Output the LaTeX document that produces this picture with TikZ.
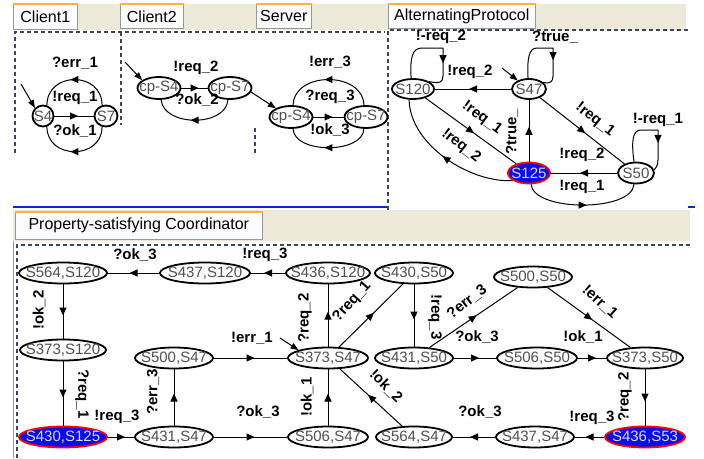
\documentclass[tikz,border=0pt]{standalone}
\usepackage{fontspec}
\setmainfont{Liberation Sans}
\usetikzlibrary{shapes.geometric,arrows.meta,decorations.markings}
\definecolor{beige}{HTML}{ECE9D8}
\definecolor{tabfill}{HTML}{FCFCFE}
\definecolor{taborange}{HTML}{F5B43C}
\definecolor{tabborder}{HTML}{919B9C}
\definecolor{nodegray}{HTML}{505050}
\definecolor{hiblue}{HTML}{0A0AF0}
\definecolor{hitext}{HTML}{D8DCFF}
\definecolor{framegray}{HTML}{3C4654}
\definecolor{selblue}{HTML}{0A28E6}
\newcommand\zt[1]{\makebox[0pt]{#1}}
\begin{document}
\begin{tikzpicture}[x=1pt,y=-1pt,
  st/.style={ellipse, draw=black, line width=1.8pt, fill=white, inner sep=0pt,
    minimum height=21pt, font=\fontsize{15}{15}\selectfont, text=nodegray},
  hi/.style={st, fill=hiblue, draw=red, text=hitext},
  lab/.style={font=\bfseries\fontsize{15}{15}\selectfont, inner sep=0pt},
  tabnode/.style={draw=tabborder, fill=tabfill, line width=0.6pt, anchor=north west,
    inner sep=0pt, font=\fontsize{16}{16}\selectfont},
  conn/.style={line width=1pt, postaction={decorate}, decoration={markings,
    mark=at position #1 with {\pgftransformxshift{4pt}\arrow{Triangle[length=8pt,width=7pt]}}}},
  conn/.default=0.5,
  init/.style={line width=1pt, -{Triangle[length=8pt,width=6pt]}},
  dashframe/.style={dash pattern=on 4pt off 3pt, line width=1.3pt, color=framegray},
]
\useasboundingbox (0,0) rectangle (704,458);
\fill[white] (0,0) rectangle (704,458);

% ---------- window chrome ----------
\fill[beige] (13,4) rectangle (686,30);
\fill[beige] (13,210) rectangle (690,241);
\node[tabnode, minimum width=64, minimum height=25] (t1) at (13,4) {Client1};
\node[tabnode, minimum width=63, minimum height=24] (t2) at (120,4) {Client2};
\node[tabnode, minimum width=55, minimum height=24] (t3) at (256,4) {Server};
\node[tabnode, minimum width=147, minimum height=24] (t4) at (388,4) {AlternatingProtocol};
\node[tabnode, minimum width=247, minimum height=27] (t5) at (15,212) {Property-satisfying Coordinator};
\foreach \t in {t1,t2,t3,t4,t5}
  \draw[taborange, line width=2pt] (\t.north west) -- (\t.north east);

\draw[dashframe] (15,153) -- (15,32) -- (385,32);
\draw[dashframe] (121,32) -- (121,125);
\draw[dashframe] (255,128) -- (255,153);
\draw[dashframe] (388,210) -- (388,30) -- (688,30);
\draw[selblue, line width=2pt] (13,207) -- (387,207);
\draw[selblue, line width=2pt] (688,207) -- (695,207);
\draw[dashframe] (17,458) -- (17,245) -- (690,245);
\draw[tabborder, line width=0.8pt] (13,241) -- (13,458);

% ---------- Client1 ----------
\node[st, minimum width=21, minimum height=21] (c1a) at (43,116) {\zt{S4}};
\node[st, minimum width=23, minimum height=21] (c1b) at (106,116) {\zt{S7}};
\coordinate (c1i) at (21,84);
\draw[init] (c1i) -- (c1a.135);
\draw[conn] (c1a) -- (c1b);
\draw[conn] (c1b.110) .. controls (102,71) and (47,71) .. (c1a.70);
\draw[conn] (c1b.-110) .. controls (102,160) and (47,160) .. (c1a.-70);
\node[lab] (c1l1) at (75,63) {?err\_1};
\node[lab] (c1l2) at (75,98) {!req\_1};
\node[lab] (c1l3) at (75,131) {?ok\_1};

% ---------- Client2 ----------
\node[st, minimum width=43, minimum height=22] (c2a) at (159,88) {\zt{cp-S4}};
\node[st, minimum width=43, minimum height=22] (c2b) at (230,88) {\zt{cp-S7}};
\coordinate (c2i) at (125,62);
\draw[init] (c2i) -- (c2a.155);
\draw[conn] (c2a) -- (c2b);
\draw[conn] (c2b.-100) .. controls (226,127) and (164,127) .. (c2a.-80);
\node[lab] (c2l1) at (196,68) {!req\_2};
\node[lab] (c2l2) at (197,100) {?ok\_2};

% ---------- Server ----------
\node[st, minimum width=43, minimum height=22] (sa) at (291,117) {\zt{cp-S4}};
\node[st, minimum width=43, minimum height=22] (sb) at (366,117) {\zt{cp-S7}};
\coordinate (si) at (251,92);
\draw[init] (si) -- (sa.150);
\draw[conn] (sa) -- (sb);
\draw[conn] (sb.100) .. controls (363,71) and (294,71) .. (sa.80);
\draw[conn] (sb.-100) .. controls (363,154) and (294,154) .. (sa.-80);
\node[lab] (sl1) at (330,62) {!err\_3};
\node[lab] (sl2) at (330,97) {?req\_3};
\node[lab] (sl3) at (330,130) {!ok\_3};

% ---------- AlternatingProtocol ----------
\node[st, minimum width=42, minimum height=20] (p120) at (413,89) {\zt{S120}};
\node[st, minimum width=34, minimum height=20] (p47) at (529,89) {\zt{S47}};
\node[hi, minimum width=42, minimum height=21] (p125) at (529,173) {\zt{S125}};
\node[st, minimum width=36, minimum height=21] (p50) at (636,173) {\zt{S50}};
\coordinate (pi) at (502,68);
\draw[init] (pi) -- (p47.143);
\draw[conn] (p47) -- (p120);
\draw[conn] (p120) -- (p125);
\draw[conn] (p125) -- (p47);
\draw[conn] (p47) -- (p50);
\draw[conn] (p50) -- (p125);
\draw[conn] (p125.205) .. controls (470,183) and (410,145) .. (p120.-110);
\draw[conn] (p125.-80) .. controls (534,212) and (632,212) .. (p50.-100);
\draw[conn=0.66] (p120.100) .. controls (410,58) and (412,48) .. (422,48) -- (443,48) -- (443,76) .. controls (443,82) and (440,84) .. (p120.25);
\draw[conn=0.63] (p47.95) .. controls (527,58) and (529,48) .. (537,48) -- (553,48) -- (553,76) .. controls (553,82) and (550,84) .. (p47.25);
\draw[conn=0.66] (p50.100) .. controls (631,140) and (633,130) .. (641,130) -- (658,130) -- (658,160) .. controls (658,166) and (655,169) .. (p50.10);
\node[lab] (pl1) at (441,37) {!-req\_2};
\node[lab] (pl2) at (555,37) {?true\_};
\node[lab] (pl3) at (470,72) {!req\_2};
\node[lab, rotate=-36] (pl4) at (482,118) {!req\_1};
\node[lab, rotate=-38] (pl5) at (461,146) {!req\_2};
\node[lab, rotate=90] (pl6) at (512,132) {?true\_};
\node[lab, rotate=-38] (pl7) at (595,120) {!req\_1};
\node[lab] (pl8) at (658,120) {!-req\_1};
\node[lab] (pl9) at (582,155) {!req\_2};
\node[lab] (pl10) at (582,187) {!req\_1};

% ---------- Property-satisfying Coordinator ----------
\node[st, minimum width=88] (k1) at (63,273) {\zt{S564,S120}};
\node[st, minimum width=90] (k2) at (205,273) {\zt{S437,S120}};
\node[st, minimum width=84] (k3) at (328,273) {\zt{S436,S120}};
\node[st, minimum width=78] (k4) at (414,273) {\zt{S430,S50}};
\node[st, minimum width=78] (k5) at (533,277) {\zt{S500,S50}};
\node[st, minimum width=86] (k6) at (63,350) {\zt{S373,S120}};
\node[st, minimum width=78] (k7) at (174,358) {\zt{S500,S47}};
\node[st, minimum width=80] (k8) at (328,358) {\zt{S373,S47}};
\node[st, minimum width=78] (k9) at (414,358) {\zt{S431,S50}};
\node[st, minimum width=80] (k10) at (537,358) {\zt{S506,S50}};
\node[st, minimum width=76] (k11) at (645,358) {\zt{S373,S50}};
\node[hi, minimum width=88] (k12) at (63,437) {\zt{S430,S125}};
\node[st, minimum width=78] (k13) at (174,437) {\zt{S431,S47}};
\node[st, minimum width=80] (k14) at (328,437) {\zt{S506,S47}};
\node[st, minimum width=76] (k15) at (414,437) {\zt{S564,S47}};
\node[st, minimum width=78] (k16) at (535,437) {\zt{S437,S47}};
\node[hi, minimum width=80] (k17) at (645,437) {\zt{S436,S53}};

\draw[conn] (k2) -- (k1);
\draw[conn] (k3) -- (k2);
\draw[conn] (k1) -- (k6);
\draw[conn] (k6) -- (k12);
\draw[conn] (k12) -- (k13);
\draw[conn] (k13) -- (k7);
\draw[conn] (k7) -- (k8);
\draw[conn] (k13) -- (k14);
\draw[conn] (k8) -- (k3);
\draw[conn] (k8) -- (k4);
\draw[conn] (k4) -- (k9);
\draw[conn] (k9) -- (k5);
\draw[conn] (k9) -- (k10);
\draw[conn] (k5) -- (k11);
\draw[conn] (k10) -- (k11);
\draw[conn] (k11) -- (k17);
\draw[conn] (k17) -- (k16);
\draw[conn] (k16) -- (k15);
\draw[conn] (k15) -- (k8);
\draw[conn] (k14) -- (k8);
\coordinate (ki) at (280,338);
\draw[init] (ki) -- (k8.165);

\node[lab] (kl1) at (135,255) {?ok\_3};
\node[lab] (kl2) at (265,255) {!req\_3};
\node[lab, rotate=90] (kl3) at (39,310) {!ok\_2};
\node[lab, rotate=-90] (kl4) at (82,394) {?req\_1};
\node[lab] (kl5) at (117,417) {!req\_3};
\node[lab, rotate=90] (kl6) at (153,392) {?err\_3};
\node[lab] (kl7) at (252,338) {!err\_1};
\node[lab] (kl8) at (258,412) {?ok\_3};
\node[lab, rotate=90] (kl9) at (305,318) {?req\_2};
\node[lab, rotate=48] (kl10) at (352,302) {?req\_1};
\node[lab, rotate=-90] (kl11) at (435,317) {!req\_3};
\node[lab, rotate=38] (kl12) at (467,302) {?err\_3};
\node[lab] (kl13) at (477,337) {?ok\_3};
\node[lab, rotate=-42] (kl14) at (600,302) {!err\_1};
\node[lab] (kl15) at (583,337) {!ok\_1};
\node[lab, rotate=90] (kl16) at (625,397) {?req\_2};
\node[lab] (kl17) at (592,418) {!req\_3};
\node[lab] (kl18) at (480,412) {?ok\_3};
\node[lab, rotate=-45] (kl19) at (386,386) {!ok\_2};
\node[lab, rotate=90] (kl20) at (307,397) {!ok\_1};
\end{tikzpicture}
\end{document}
